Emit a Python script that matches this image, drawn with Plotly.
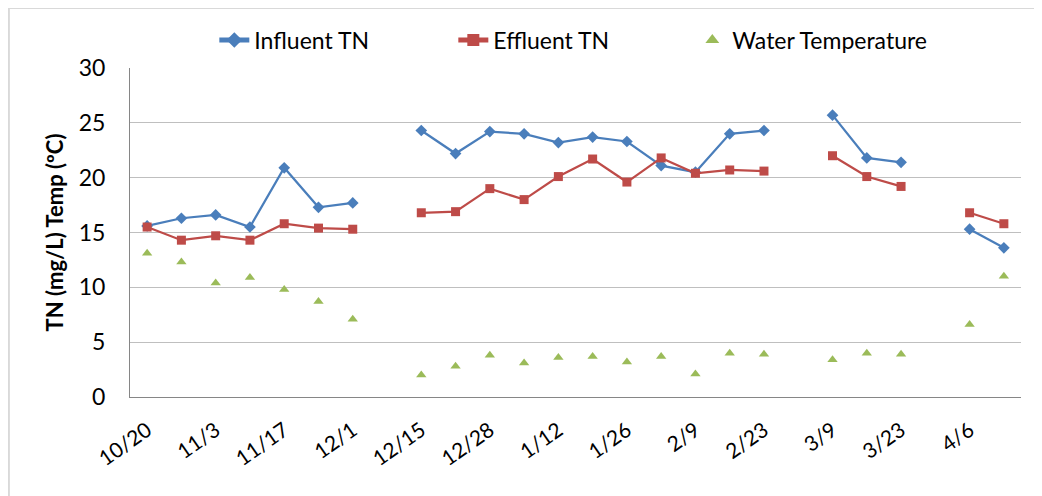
import plotly.graph_objects as go

dates = ["10/20", "10/27", "11/3", "11/10", "11/17", "11/24", "12/1", "12/8",
         "12/15", "12/21", "12/28", "1/5", "1/12", "1/19", "1/26", "2/2",
         "2/9", "2/16", "2/23", "3/2", "3/9", "3/16", "3/23", "3/30",
         "4/6", "4/13"]
tick_labels = ["10/20", "11/3", "11/17", "12/1", "12/15", "12/28", "1/12",
               "1/26", "2/9", "2/23", "3/9", "3/23", "4/6"]

influent_tn = [15.6, 16.3, 16.6, 15.5, 20.9, 17.3, 17.7, None,
               24.3, 22.2, 24.2, 24.0, 23.2, 23.7, 23.3, 21.1,
               20.5, 24.0, 24.3, None, 25.7, 21.8, 21.4, None,
               15.3, 13.6]
effluent_tn = [15.5, 14.3, 14.7, 14.3, 15.8, 15.4, 15.3, None,
               16.8, 16.9, 19.0, 18.0, 20.1, 21.7, 19.6, 21.8,
               20.4, 20.7, 20.6, None, 22.0, 20.1, 19.2, None,
               16.8, 15.8]
water_temp = [13.1, 12.3, 10.4, 10.9, 9.8, 8.7, 7.1, None,
              2.0, 2.8, 3.8, 3.1, 3.6, 3.7, 3.2, 3.7,
              2.1, 4.0, 3.9, None, 3.4, 4.0, 3.9, None,
              6.6, 11.0]

FONT = "Lato, 'Open Sans', sans-serif"

# the page body adds an 8px offset, so the figure is drawn 8px smaller
W, H = 1034, 488
L, T, R, B = 122, 60, 21, 99
PW, PH = W - L - R, H - T - B

fig = go.Figure()
fig.add_trace(go.Scatter(
    x=dates, y=influent_tn, name="Influent TN", mode="lines+markers",
    line=dict(color="#4A7EBB", width=2.25),
    marker=dict(symbol="diamond", size=9, color="#4A7EBB"),
    connectgaps=False))
fig.add_trace(go.Scatter(
    x=dates, y=effluent_tn, name="Effluent TN", mode="lines+markers",
    line=dict(color="#BE4B48", width=2.25),
    marker=dict(symbol="square", size=9, color="#BE4B48"),
    connectgaps=False))
fig.add_trace(go.Scatter(
    x=dates, y=water_temp, name="Water Temperature", mode="markers",
    marker=dict(symbol="triangle-up", size=9, color="#9BBB59")))

fig.update_layout(
    width=W, height=H,
    margin=dict(l=L, r=R, t=T, b=B, autoexpand=False),
    paper_bgcolor="white", plot_bgcolor="white",
    font=dict(family=FONT, color="#000000"),
    showlegend=True,
    legend=dict(orientation="h", x=0.497, xanchor="center", y=(PH + 28) / PH,
                yanchor="middle", bgcolor="rgba(0,0,0,0)",
                font=dict(size=23), entrywidth=194, entrywidthmode="pixels",
                itemsizing="constant"),
    xaxis=dict(type="category", categoryorder="array", categoryarray=dates,
               tickmode="array", tickvals=tick_labels, ticktext=tick_labels,
               tickangle=-35, tickfont=dict(size=21), showgrid=False,
               showline=True, linecolor="#868686", linewidth=1, ticks="",
               ticklabelstandoff=12,
               range=[-0.5, len(dates) - 0.5]),
    yaxis=dict(range=[0, 30], dtick=5, tickfont=dict(size=23),
               showgrid=True, gridcolor="#BFBFBF", gridwidth=1,
               showline=True, linecolor="#868686", linewidth=1,
               zeroline=False, ticks="", ticklabelstandoff=19,
               title=dict(text="<b>TN (mg/L) Temp (ºC)</b>", font=dict(size=22), standoff=9)),
    shapes=[dict(type="rect", xref="paper", yref="paper",
                 x0=-L / PW + 0.001, x1=1.2, y0=-0.5, y1=(PH + T) / PH,
                 line=dict(color="#D9D9D9", width=2), fillcolor="rgba(0,0,0,0)",
                 layer="below")],
)

fig.write_html("out.html")
